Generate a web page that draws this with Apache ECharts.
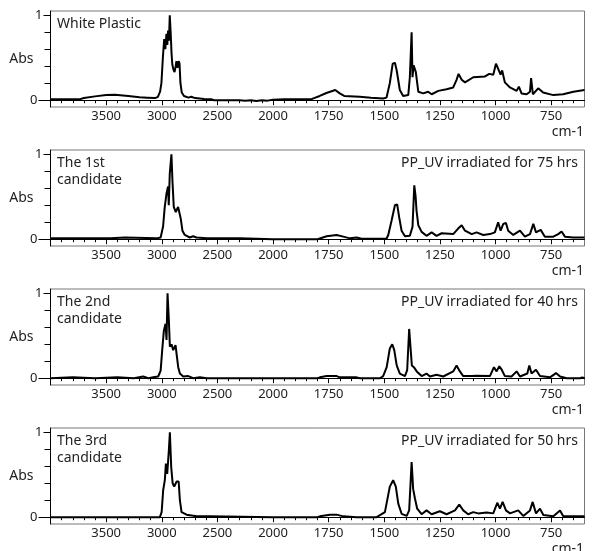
<!DOCTYPE html>
<html>
<head>
<meta charset="utf-8">
<script src="https://cdn.jsdelivr.net/npm/echarts@6/dist/echarts.min.js"></script>
<style>
  html, body { margin: 0; padding: 0; background: #fff; }
  #chart { width: 592px; height: 551px; }
</style>
</head>
<body>
<div id="chart"></div>
<script>
// [wavenumber cm-1, absorbance]
const whitePlastic = [
  [4000, 0.01], [3740, 0.01], [3700, 0.025], [3600, 0.045], [3500, 0.06], [3420, 0.065],
  [3300, 0.05], [3200, 0.035], [3130, 0.03], [3060, 0.025], [3035, 0.04], [3015, 0.1],
  [3003, 0.2], [2990, 0.5], [2978, 0.72], [2968, 0.6], [2958, 0.78], [2950, 0.65],
  [2943, 0.82], [2935, 0.7], [2928, 1.0], [2920, 0.8], [2912, 0.55], [2905, 0.42],
  [2895, 0.36], [2885, 0.33], [2875, 0.4], [2868, 0.46], [2858, 0.38], [2848, 0.46],
  [2840, 0.43], [2832, 0.2], [2820, 0.09], [2800, 0.05], [2760, 0.03], [2735, 0.04],
  [2700, 0.025], [2620, 0.015], [2550, 0.01], [2530, 0.0], [2300, 0.0], [2250, -0.005],
  [2200, 0.0], [2150, -0.01], [2100, 0.0], [2050, -0.005], [2000, 0.005], [1950, 0.01],
  [1830, 0.01], [1790, 0.05], [1760, 0.085], [1720, 0.12], [1700, 0.08], [1680, 0.05],
  [1610, 0.04], [1560, 0.03], [1505, 0.02], [1490, 0.03], [1475, 0.2], [1462, 0.43],
  [1452, 0.44], [1444, 0.35], [1430, 0.12], [1415, 0.05], [1392, 0.06], [1385, 0.27],
  [1377, 0.8], [1373, 0.27], [1368, 0.41], [1358, 0.33], [1347, 0.1], [1325, 0.08],
  [1303, 0.1], [1287, 0.07], [1257, 0.11], [1220, 0.13], [1190, 0.15], [1175, 0.24],
  [1166, 0.31], [1152, 0.24], [1137, 0.21], [1100, 0.27], [1047, 0.28], [1028, 0.31],
  [1010, 0.3], [998, 0.43], [988, 0.37], [977, 0.3], [970, 0.35], [958, 0.21],
  [935, 0.15], [905, 0.11], [895, 0.16], [883, 0.08], [860, 0.07], [845, 0.1],
  [840, 0.26], [832, 0.07], [808, 0.14], [786, 0.09], [740, 0.06], [696, 0.07],
  [650, 0.1], [600, 0.12]
];

const candidate1 = [
  [4000, 0.01], [3460, 0.01], [3450, 0.02], [3330, 0.02], [3320, 0.01], [3045, 0.01],
  [3010, 0.02], [3000, 0.04], [2988, 0.15], [2973, 0.38], [2957, 0.54], [2943, 0.62],
  [2937, 0.4], [2928, 0.77], [2913, 1.0], [2904, 0.69], [2892, 0.38], [2874, 0.32],
  [2853, 0.38], [2838, 0.36], [2829, 0.24], [2814, 0.1], [2793, 0.05], [2748, 0.02],
  [2718, 0.035], [2688, 0.02], [2598, 0.01], [2300, 0.01], [2290, 0.0], [2000, 0.0],
  [1800, 0.0], [1797, 0.015], [1759, 0.035], [1714, 0.05], [1684, 0.03], [1654, 0.01],
  [1624, 0.02], [1602, 0.005], [1490, 0.005], [1482, 0.05], [1467, 0.22], [1452, 0.4],
  [1442, 0.41], [1433, 0.26], [1422, 0.1], [1407, 0.035], [1385, 0.04], [1373, 0.145],
  [1365, 0.635], [1359, 0.5], [1355, 0.34], [1347, 0.165], [1332, 0.086], [1310, 0.04],
  [1287, 0.08], [1265, 0.04], [1242, 0.07], [1190, 0.06], [1168, 0.125], [1152, 0.165],
  [1137, 0.1], [1107, 0.06], [1085, 0.08], [1055, 0.05], [1025, 0.06], [1003, 0.08],
  [988, 0.2], [977, 0.1], [965, 0.18], [953, 0.19], [943, 0.1], [920, 0.05],
  [890, 0.1], [868, 0.03], [845, 0.06], [830, 0.18], [818, 0.08], [797, 0.11],
  [778, 0.03], [740, 0.03], [718, 0.06], [703, 0.09], [688, 0.03], [651, 0.02],
  [600, 0.02]
];

const candidate2 = [
  [4000, 0.0], [3800, 0.01], [3600, 0.0], [3400, 0.01], [3250, 0.0], [3167, 0.02],
  [3120, 0.0], [3077, 0.01], [3032, 0.02], [3010, 0.09], [2996, 0.33], [2981, 0.56],
  [2966, 0.64], [2957, 0.45], [2948, 1.0], [2936, 0.68], [2927, 0.37], [2912, 0.4],
  [2897, 0.33], [2876, 0.39], [2867, 0.29], [2852, 0.13], [2837, 0.055], [2807, 0.02],
  [2762, 0.025], [2717, 0.0], [2657, 0.01], [2597, 0.0], [2000, 0.0], [1800, 0.0],
  [1789, 0.01], [1759, 0.025], [1714, 0.025], [1699, 0.01], [1624, 0.01], [1609, 0.0],
  [1519, 0.0], [1505, 0.025], [1489, 0.13], [1475, 0.35], [1464, 0.4], [1455, 0.33],
  [1444, 0.15], [1430, 0.055], [1407, 0.025], [1397, 0.094], [1388, 0.58], [1381, 0.33],
  [1376, 0.15], [1367, 0.13], [1354, 0.08], [1332, 0.025], [1310, 0.055], [1295, 0.02],
  [1265, 0.04], [1235, 0.02], [1190, 0.08], [1175, 0.15], [1160, 0.08], [1145, 0.025],
  [1107, 0.025], [1085, 0.03], [1025, 0.025], [1007, 0.13], [995, 0.08], [983, 0.14],
  [972, 0.1], [958, 0.025], [928, 0.02], [905, 0.08], [890, 0.02], [857, 0.055],
  [848, 0.15], [838, 0.055], [818, 0.1], [800, 0.025], [755, 0.01], [728, 0.06],
  [710, 0.02], [680, 0.0], [620, 0.0], [610, 0.01], [600, 0.0]
];

const candidate3 = [
  [4000, 0.0], [3017, 0.0], [3001, 0.06], [2987, 0.32], [2972, 0.44], [2963, 0.63],
  [2951, 0.51], [2936, 0.79], [2927, 1.0], [2915, 0.59], [2902, 0.4], [2888, 0.36],
  [2866, 0.42], [2848, 0.42], [2837, 0.2], [2822, 0.06], [2777, 0.03], [2687, 0.01],
  [2567, 0.01], [2552, 0.0], [2000, 0.0], [1800, 0.0], [1789, 0.01], [1744, 0.03],
  [1714, 0.03], [1684, 0.01], [1624, 0.0], [1534, 0.0], [1497, 0.06], [1475, 0.36],
  [1460, 0.435], [1448, 0.36], [1437, 0.16], [1422, 0.04], [1399, 0.015], [1388, 0.08],
  [1377, 0.65], [1370, 0.33], [1362, 0.22], [1352, 0.1], [1332, 0.035], [1310, 0.08],
  [1287, 0.035], [1250, 0.07], [1220, 0.035], [1182, 0.08], [1163, 0.15], [1145, 0.08],
  [1123, 0.035], [1100, 0.06], [1078, 0.045], [1040, 0.055], [1010, 0.045], [992, 0.17],
  [980, 0.1], [968, 0.18], [953, 0.08], [935, 0.045], [898, 0.08], [875, 0.015],
  [845, 0.08], [833, 0.18], [818, 0.045], [800, 0.1], [785, 0.025], [740, 0.01],
  [710, 0.08], [696, 0.015], [651, 0.01], [600, 0.01]
];

const spectra = [whitePlastic, candidate1, candidate2, candidate3];
const sampleNames = ['White Plastic', 'The 1st\ncandidate', 'The 2nd\ncandidate', 'The 3rd\ncandidate'];
const sampleNotes = ['', 'PP_UV irradiated for 75 hrs', 'PP_UV irradiated for 40 hrs', 'PP_UV irradiated for 50 hrs'];
const xTickLabels = [3500, 3000, 2500, 2000, 1750, 1500, 1250, 1000, 750];
const yMinorTicks = [0.2, 0.4, 0.6, 0.8];

const FONT = 'Noto Sans';
const PANEL_TOP = 11, PANEL_STEP = 139, PANEL_H = 96;

// spectrometer plot: 4000-2000 is drawn at half the scale of 2000-600
function toAxis(w) { return w >= 2000 ? 2000 + (w - 2000) / 2 : w; }
function fromAxis(u) { return u >= 2000 ? 2000 + (u - 2000) * 2 : u; }

let minorX = [];
for (let u = 650; u < 3000; u += 50) minorX.push(u);
const majorX = xTickLabels.map(toAxis);

let grids = [], xAxes = [], yAxes = [], series = [], graphics = [];

spectra.forEach((spec, i) => {
  const top = PANEL_TOP + i * PANEL_STEP;
  grids.push({
    left: 50.5, right: 7.5, top: top, height: PANEL_H,
    show: true, borderColor: '#777', borderWidth: 1
  });
  const xBase = {
    gridIndex: i, type: 'value', inverse: true, min: 600, max: 3000,
    position: 'bottom', splitLine: { show: false }
  };
  xAxes.push(Object.assign({}, xBase, {
    axisLine: { lineStyle: { color: '#000', width: 1 } },
    axisTick: { customValues: majorX, length: 5, lineStyle: { color: '#000' } },
    axisLabel: {
      customValues: majorX, formatter: v => String(fromAxis(v)),
      color: '#222', fontSize: 13, fontFamily: FONT, margin: 3
    }
  }));
  xAxes.push(Object.assign({}, xBase, {
    axisLine: { show: false },
    axisTick: { customValues: minorX, length: 3, lineStyle: { color: '#000' } },
    axisLabel: { show: false }
  }));

  const yBase = {
    gridIndex: i, type: 'value', min: -0.08, max: 1.05, position: 'left',
    splitLine: { show: false }, axisLine: { show: false }
  };
  yAxes.push(Object.assign({}, yBase, {
    axisLine: { show: true, lineStyle: { color: '#000', width: 1 } },
    axisTick: { customValues: yMinorTicks, length: 6, lineStyle: { color: '#000' } },
    axisLabel: { show: false },
    name: 'Abs', nameLocation: 'middle', nameRotate: 0, nameGap: 17,
    nameTextStyle: { color: '#222', fontSize: 14, fontFamily: FONT, align: 'right' }
  }));
  yAxes.push(Object.assign({}, yBase, {
    axisTick: { customValues: [1], length: 7, lineStyle: { color: '#000' } },
    axisLabel: { customValues: [1], color: '#222', fontSize: 13, fontFamily: FONT, margin: 8 }
  }));
  yAxes.push(Object.assign({}, yBase, {
    axisTick: { customValues: [0], length: 12, lineStyle: { color: '#000' } },
    axisLabel: { customValues: [0], color: '#222', fontSize: 13, fontFamily: FONT, margin: 13 }
  }));

  series.push({
    type: 'line', xAxisIndex: i * 2, yAxisIndex: i * 3,
    data: spec.map(p => [toAxis(p[0]), p[1]]),
    showSymbol: false, silent: true,
    lineStyle: { color: '#000', width: 2 }
  });

  graphics.push({
    type: 'text', left: 57, top: top + 5,
    style: { text: sampleNames[i], fill: '#222', fontSize: 14, fontFamily: FONT, lineHeight: 17 }
  });
  if (sampleNotes[i]) {
    graphics.push({
      type: 'text', right: 14, top: top + 5,
      style: { text: sampleNotes[i], fill: '#222', fontSize: 14, fontFamily: FONT, lineHeight: 17 }
    });
  }
  graphics.push({
    type: 'text', right: 8, top: top + PANEL_H + 18,
    style: { text: 'cm-1', fill: '#222', fontSize: 14, fontFamily: FONT }
  });
});

const chart = echarts.init(document.getElementById('chart'));
chart.setOption({
  animation: false,
  backgroundColor: '#fff',
  grid: grids,
  xAxis: xAxes,
  yAxis: yAxes,
  series: series,
  graphic: graphics
});
</script>
</body>
</html>
